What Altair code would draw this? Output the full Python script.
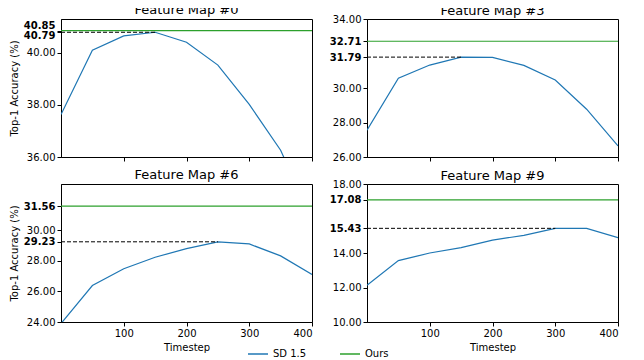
import altair as alt
import pandas as pd

timesteps = [0, 50, 100, 150, 200, 250, 300, 350, 400]
acc_fm0 = [37.63, 40.10, 40.65, 40.79, 40.41, 39.53, 38.02, 36.26, 33.60]
acc_fm3 = [27.55, 30.57, 31.33, 31.79, 31.77, 31.31, 30.46, 28.77, 26.64]
acc_fm6 = [23.90, 26.38, 27.47, 28.22, 28.79, 29.23, 29.09, 28.31, 27.10]
acc_fm9 = [12.13, 13.56, 14.00, 14.31, 14.75, 15.02, 15.43, 15.43, 14.89]
ours_acc = [40.85, 32.71, 31.56, 17.08]
best_acc = [40.79, 31.79, 29.23, 15.43]
best_t = [150, 150, 250, 300]
titles = ["Feature Map #0", "Feature Map #3", "Feature Map #6", "Feature Map #9"]
y_domains = [[36, 41.3], [26, 34], [24, 33], [10, 18]]
y_ticks = [
    [36, 38, 40, 40.79, 40.85],
    [26, 28, 30, 31.79, 32.71, 34],
    [24, 26, 28, 29.23, 30, 31.56],
    [10, 12, 14, 15.43, 17.08, 18],
]
x_ticks = [100, 200, 300, 400]
series_names = ["SD 1.5", "Ours"]
series_colors = ["#1f77b4", "#2ca02c"]

PW, PH = 251, 138

color_scale = alt.Scale(domain=series_names, range=series_colors)
legend = alt.Legend(orient="none", legendX=186, legendY=2 * PH + 48, direction="horizontal",
                    title=None, symbolType="stroke", symbolSize=400,
                    symbolStrokeWidth=1.5, labelFontSize=10, columnPadding=30,
                    labelColor="black")


def panel(i, vals, show_xlabels, show_ytitle, title_dy):
    df = pd.DataFrame({"t": timesteps, "acc": vals, "series": "SD 1.5"})
    ours_df = pd.DataFrame({"acc": [ours_acc[i]], "series": ["Ours"]})
    best_df = pd.DataFrame({"t0": [0], "t1": [best_t[i]], "acc": [best_acc[i]]})
    bold_list = "[%s, %s]" % (best_acc[i], ours_acc[i])
    yaxis_kw = dict(
        values=y_ticks[i],
        format=".2f",
        grid=False,
        labelOverlap=False,
        labelFontSize=10,
        labelColor="black",
        tickColor="black",
        domainColor="black",
        tickSize=4,
        labelFontWeight={
            "condition": {"test": f"indexof({bold_list}, datum.value) >= 0", "value": "bold"},
            "value": "normal",
        },
        title="Top-1 Accuracy (%)" if show_ytitle else None,
    )
    if i == 0:
        yaxis_kw["labelBaseline"] = {
            "condition": {"test": "datum.value == 40.85", "value": "bottom"},
            "value": "middle",
        }
        yaxis_kw["labelOffset"] = {
            "condition": {"test": "datum.value == 40.79", "value": 3},
            "value": 0,
        }
    xaxis_kw = dict(
        values=x_ticks,
        grid=False,
        labels=show_xlabels,
        labelFontSize=10,
        labelColor="black",
        tickColor="black",
        domainColor="black",
        tickSize=4,
        labelOverlap=False,
        title="Timestep" if show_xlabels else None,
    )
    xs = alt.Scale(domain=[0, 400], nice=False, zero=False)
    ys = alt.Scale(domain=y_domains[i], nice=False, zero=False)
    line = alt.Chart(df).mark_line(strokeWidth=1.2, clip=True).encode(
        x=alt.X("t:Q", scale=xs, axis=alt.Axis(**xaxis_kw)),
        y=alt.Y("acc:Q", scale=ys, axis=alt.Axis(**yaxis_kw)),
        color=alt.Color("series:N", scale=color_scale, legend=legend),
    )
    green = alt.Chart(ours_df).mark_rule(strokeWidth=1.2).encode(
        y=alt.Y("acc:Q", scale=ys, axis=alt.Axis(**yaxis_kw)),
        color=alt.Color("series:N", scale=color_scale, legend=legend),
    )
    dashed = alt.Chart(best_df).mark_rule(color="black", strokeWidth=1, strokeDash=[4, 2]).encode(
        x=alt.X("t0:Q", scale=xs, axis=alt.Axis(**xaxis_kw)),
        x2="t1:Q",
        y=alt.Y("acc:Q", scale=ys, axis=alt.Axis(**yaxis_kw)),
    )
    return alt.layer(line, green, dashed).properties(
        width=PW, height=PH,
        title=alt.TitleParams(titles[i], fontSize=13, fontWeight="normal", offset=2,
                              color="black", dy=title_dy),
    )


all_vals = [acc_fm0, acc_fm3, acc_fm6, acc_fm9]
panels = [
    panel(0, all_vals[0], False, True, 0),
    panel(1, all_vals[1], False, False, 6),
    panel(2, all_vals[2], True, True, 0),
    panel(3, all_vals[3], True, False, 6),
]

chart = alt.concat(*panels, columns=2, bounds="flush",
                   spacing={"row": 27, "column": 55}).configure_view(
    stroke="black", strokeWidth=1
).configure_axis(
    titleFontSize=10, titleFontWeight="normal", titleColor="black", labelFont="DejaVu Sans",
    titleFont="DejaVu Sans"
).configure_title(font="DejaVu Sans").configure_legend(labelFont="DejaVu Sans").properties(
    padding={"left": 0, "top": -5, "right": 6, "bottom": 0}
)

chart.save("out.html", embed_options={"renderer": "svg", "actions": False})
